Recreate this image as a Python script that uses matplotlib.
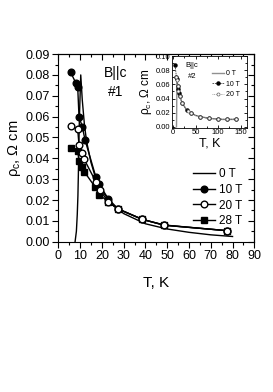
import matplotlib
matplotlib.use("Agg")
from matplotlib import pyplot as plt
from matplotlib.ticker import MultipleLocator

plt.rcParams['font.family'] = ['Liberation Sans', 'DejaVu Sans']
plt.rcParams['mathtext.fontset'] = 'custom'
plt.rcParams['mathtext.rm'] = 'Liberation Sans'
plt.rcParams['mathtext.it'] = 'Liberation Sans'

# main panel, sample #1
t_0T = [7.7, 8.3, 8.7, 9.0, 9.2, 9.4, 9.7, 10.3, 11.0, 12.0, 13.0, 15.0, 17.0,
        20.0, 25.0, 30.0, 40.0, 50.0, 60.0, 70.0, 80.0]
rho_0T = [0.0, 0.005, 0.013, 0.022, 0.032, 0.045, 0.060, 0.080, 0.068, 0.056,
          0.048, 0.038, 0.031, 0.0245, 0.0175, 0.0135, 0.0086, 0.0061, 0.0045,
          0.0033, 0.0025]

t_10T = [5.7, 8.1, 8.9, 9.5, 11.0, 12.3, 17.2, 18.8, 23.0, 27.5, 38.6, 48.7, 77.4]
rho_10T = [0.0812, 0.0760, 0.0743, 0.0600, 0.0552, 0.0487, 0.0312, 0.0275,
           0.0205, 0.0157, 0.0107, 0.0080, 0.0053]

t_20T = [5.7, 8.9, 9.5, 10.7, 11.9, 17.2, 19.1, 23.0, 27.5, 38.6, 48.7, 77.4]
rho_20T = [0.0556, 0.0540, 0.0464, 0.0424, 0.0395, 0.0288, 0.0248, 0.0190,
           0.0157, 0.0107, 0.0079, 0.0053]

t_28T = [5.7, 8.9, 9.5, 10.7, 11.9, 16.8, 18.7, 23.0, 27.5, 38.6, 48.7, 77.4]
rho_28T = [0.0448, 0.0435, 0.0387, 0.0360, 0.0336, 0.0264, 0.0226, 0.0192,
           0.0157, 0.0107, 0.0079, 0.0053]

# inset, sample #2
ti_0T = [7.6, 8.0, 8.3, 8.6, 9.0, 10, 12, 15, 20, 30, 50, 80, 110, 140]
rhoi_0T = [0.0, 0.02, 0.05, 0.068, 0.066, 0.060, 0.052, 0.043, 0.034, 0.024,
           0.016, 0.012, 0.0105, 0.0105]
ti_10T = [4.5, 7.5, 8.5, 10, 11.5, 13, 15, 20, 30, 40, 60, 80, 100, 120, 140]
rhoi_10T = [0.087, 0.070, 0.067, 0.058, 0.053, 0.048, 0.043, 0.034, 0.024,
            0.019, 0.014, 0.012, 0.011, 0.0105, 0.011]
ti_20T = [6, 8, 10, 12, 15, 20, 34, 40, 60, 80, 100, 120, 140]
rhoi_20T = [0.070, 0.066, 0.058, 0.051, 0.043, 0.034, 0.022, 0.019, 0.014,
            0.012, 0.011, 0.0105, 0.011]

fig = plt.figure(figsize=(2.73, 3.92), dpi=100)
ax = fig.add_axes([0.2136, 0.3834, 0.718, 0.4786])

ax.plot(t_0T, rho_0T, color='black', lw=1.0, label='0 T')
ax.plot(t_10T, rho_10T, color='black', lw=1.0, marker='o', ms=4.8,
        mfc='black', mec='black', label='10 T')
ax.plot(t_28T, rho_28T, color='black', lw=1.0, marker='s', ms=4.6,
        mfc='black', mec='black', label='28 T')
ax.plot(t_20T, rho_20T, color='black', lw=1.0, marker='o', ms=4.8,
        mfc='white', mec='black', mew=1.0, label='20 T')

ax.set_xlim(0, 90)
ax.set_ylim(0, 0.09)
ax.xaxis.set_major_locator(MultipleLocator(10))
ax.xaxis.set_minor_locator(MultipleLocator(5))
ax.yaxis.set_major_locator(MultipleLocator(0.01))
ax.yaxis.set_minor_locator(MultipleLocator(0.005))
ax.yaxis.set_major_formatter(lambda v, p: f"{v:.2f}")
ax.tick_params(which='both', direction='out', labelsize=9, width=0.8)
ax.tick_params(which='major', length=4, pad=2)
ax.tick_params(which='minor', length=2)

top = ax.secondary_xaxis('top')
top.xaxis.set_major_locator(MultipleLocator(10))
top.xaxis.set_minor_locator(MultipleLocator(5))
top.tick_params(which='both', direction='in', labeltop=False, width=0.8)
top.tick_params(which='major', length=4)
top.tick_params(which='minor', length=2)
right = ax.secondary_yaxis('right')
right.yaxis.set_major_locator(MultipleLocator(0.01))
right.yaxis.set_minor_locator(MultipleLocator(0.005))
right.tick_params(which='both', direction='in', labelright=False, width=0.8)
right.tick_params(which='major', length=4)
right.tick_params(which='minor', length=2)

ax.set_xlabel('T, K', fontsize=11, labelpad=10)
ax.set_ylabel(r'$\rho_c$, $\Omega$ cm', fontsize=10.5, labelpad=2)

ax.text(26.5, 0.081, 'B||c', fontsize=10, ha='center', va='center')
ax.text(26.5, 0.072, '#1', fontsize=10, ha='center', va='center')

h, l = ax.get_legend_handles_labels()
order = [0, 1, 3, 2]
ax.legend([h[i] for i in order], [l[i] for i in order], frameon=False,
          fontsize=8.5, loc='upper left', bbox_to_anchor=(0.685, 0.393),
          borderpad=0, borderaxespad=0, handlelength=1.9, handletextpad=0.3,
          labelspacing=0.32, numpoints=1)

# inset
axi = fig.add_axes([0.629, 0.674, 0.277, 0.183])
axi.plot(ti_0T, rhoi_0T, color='#909090', lw=1.0, label='0 T')
axi.plot(ti_10T, rhoi_10T, color='#404040', lw=0.6, ls=(0, (2, 1)),
         marker='o', ms=2.2, mfc='black', mec='black', label='10 T')
axi.plot(ti_20T, rhoi_20T, color='#909090', lw=0.6, ls=(0, (1, 1)),
         marker='o', ms=2.2, mfc='white', mec='#606060', mew=0.5, label='20 T')
axi.set_xlim(-3, 165)
axi.set_ylim(-0.0013, 0.1)
axi.xaxis.set_major_locator(MultipleLocator(50))
axi.xaxis.set_minor_locator(MultipleLocator(25))
axi.yaxis.set_major_locator(MultipleLocator(0.02))
axi.yaxis.set_minor_locator(MultipleLocator(0.01))
axi.yaxis.set_major_formatter(lambda v, p: f"{v:.2f}")
axi.tick_params(which='both', direction='in', top=True, right=True,
                labelsize=5.5, width=0.6, pad=1)
axi.tick_params(which='major', length=2.5)
axi.tick_params(which='minor', length=1.5)
for s in axi.spines.values():
    s.set_linewidth(0.6)
axi.set_xlabel('T, K', fontsize=9, labelpad=1)
axi.set_ylabel(r'$\rho_c$, $\Omega$ cm', fontsize=8.5, labelpad=1)
axi.text(42, 0.087, 'B||c', fontsize=5.5, ha='center', va='center')
axi.text(42, 0.071, '#2', fontsize=5.5, ha='center', va='center')
axi.legend(frameon=False, fontsize=5, loc='upper left',
           bbox_to_anchor=(0.53, 0.80), borderpad=0, borderaxespad=0,
           handlelength=1.8, handletextpad=0.3, labelspacing=0.5, numpoints=1)

fig.savefig('out.png', dpi=100)
